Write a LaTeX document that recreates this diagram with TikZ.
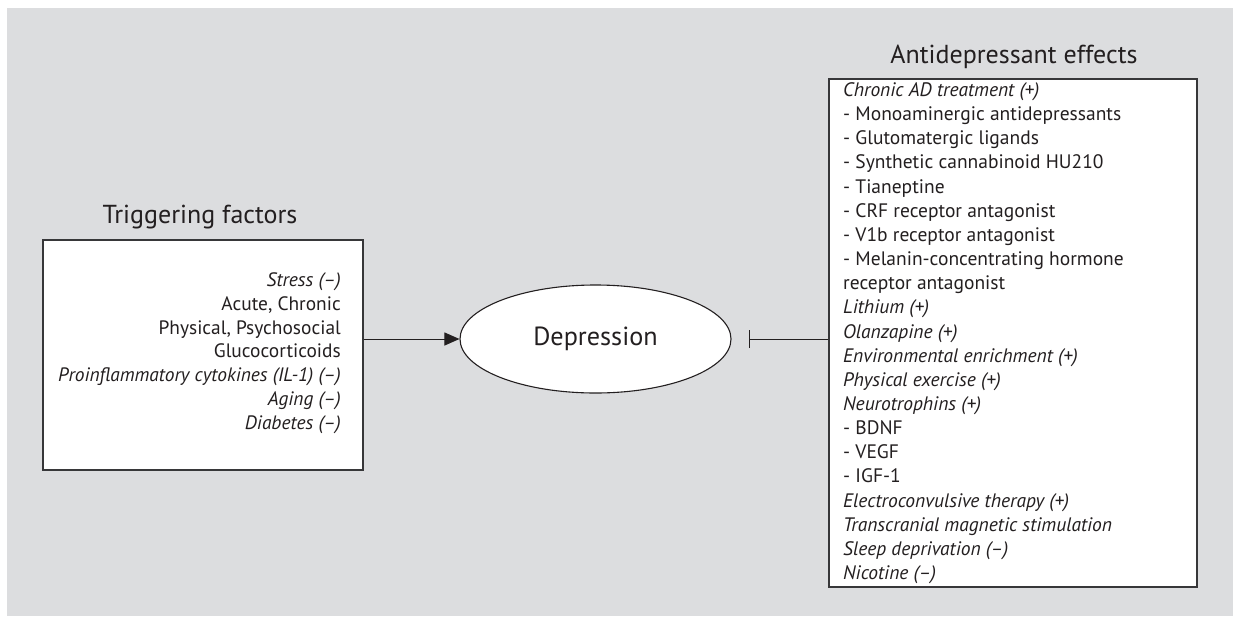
\documentclass[tikz,border=0pt]{standalone}
\usepackage{fontspec}
\setmainfont{PT Sans}
\usetikzlibrary{arrows.meta,shapes.geometric}
\definecolor{bggray}{RGB}{220,221,223}
\definecolor{ink}{RGB}{35,31,32}
\definecolor{boxline}{RGB}{55,55,57}
\begin{document}
\begin{tikzpicture}[x=1pt,y=-1pt,
  panel/.style={draw=boxline, line width=1.4pt, fill=white, rectangle, inner sep=0pt},
  title/.style={font=\fontsize{26}{31}\selectfont, text=ink, inner sep=0pt},
  listtext/.style={inner sep=0pt, text=ink},
  conn/.style={draw=ink, line width=1pt},
  oval/.style={ellipse, draw=ink, line width=1.1pt, fill=white, inner sep=0pt,
    minimum width=271pt, minimum height=108pt, font=\fontsize{26.2}{31}\selectfont, text=ink}]
\useasboundingbox (0,0) rectangle (1236,616);
\fill[bggray] (7,8) rectangle (1233,616);

\node[panel, minimum width=320pt, minimum height=230pt] (trig) at (203,355) {};
\node[panel, minimum width=368pt, minimum height=508pt] (eff) at (1013,333) {};
\node[oval] (dep) at (595.5,339) {Depression};

\node[title, anchor=base] (trigtitle) at (200,223) {Triggering factors};
\node[title, anchor=base] (efftitle) at (1014,63.5) {Antidepressant effects};

\node[listtext, anchor=base east] (trigtext) at (341,286.5) {\parbox[t]{300pt}{\raggedleft\fontsize{19.4}{23.8}\selectfont
\textit{Stress (–)}\\
Acute, Chronic\\
Physical, Psychosocial\\
Glucocorticoids\\
\textit{Proinflammatory cytokines (IL-1) (–)}\\
\textit{Aging (–)}\\
\textit{Diabetes (–)}}};

\node[listtext, anchor=base west] (efftext) at (843,96.5) {\parbox[t]{350pt}{\raggedright\fontsize{19.5}{24.15}\selectfont
\textit{Chronic AD treatment (+)}\\
- Monoaminergic antidepressants\\
- Glutomatergic ligands\\
- Synthetic cannabinoid HU210\\
- Tianeptine\\
- CRF receptor antagonist\\
- V1b receptor antagonist\\
- Melanin-concentrating hormone\\
receptor antagonist\\
\textit{Lithium (+)}\\
\textit{Olanzapine (+)}\\
\textit{Environmental enrichment (+)}\\
\textit{Physical exercise (+)}\\
\textit{Neurotrophins (+)}\\
- BDNF\\
- VEGF\\
- IGF-1\\
\textit{Electroconvulsive therapy (+)}\\
\textit{Transcranial magnetic stimulation}\\
\textit{Sleep deprivation (–)}\\
\textit{Nicotine (–)}}};

\draw[conn, -{Triangle[length=15pt,width=13pt]}] (dep.west -| trig.east) -- (dep.west);
\draw[conn, -{Bar[width=18pt,line width=1pt]}, shorten >=17pt] (dep.east -| eff.west) -- (dep.east);
\end{tikzpicture}
\end{document}
